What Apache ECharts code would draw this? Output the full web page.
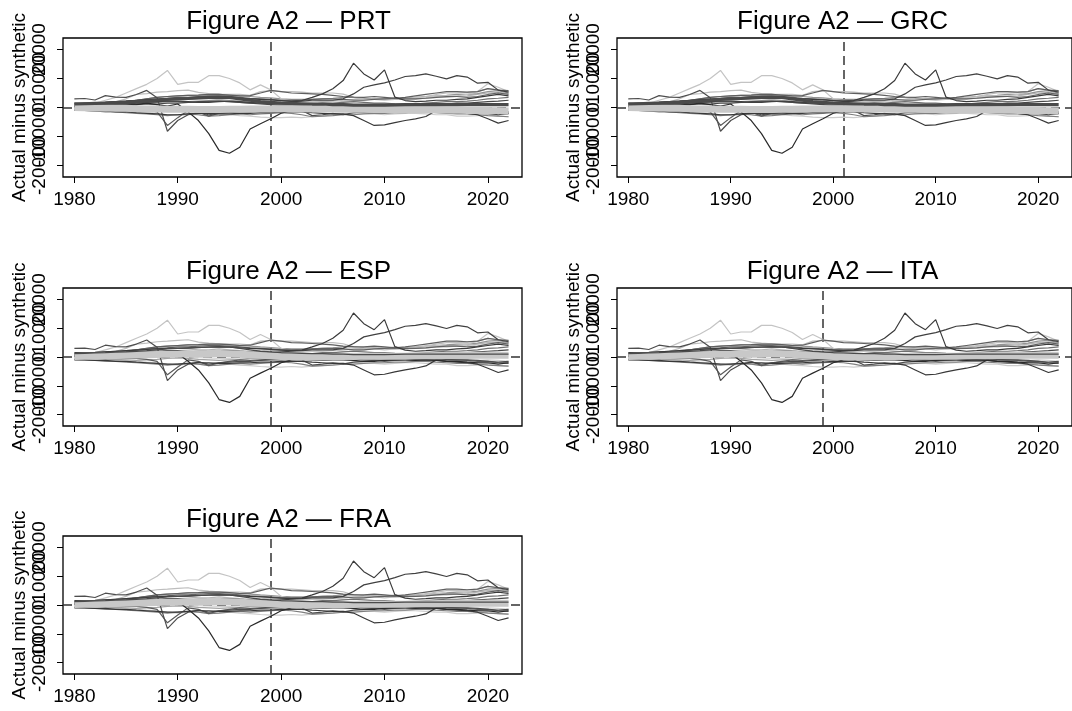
<!DOCTYPE html>
<html>
<head>
<meta charset="utf-8">
<script src="https://cdn.jsdelivr.net/npm/echarts@6/dist/echarts.min.js"></script>
<style>
  html, body { margin: 0; padding: 0; background: #fff; }
  #main { width: 1072px; height: 711px; }
</style>
</head>
<body>
<div id="main"></div>
<script>
// 年份 (x)
var years = [1980, 1981, 1982, 1983, 1984, 1985, 1986, 1987, 1988, 1989,
             1990, 1991, 1992, 1993, 1994, 1995, 1996, 1997, 1998, 1999,
             2000, 2001, 2002, 2003, 2004, 2005, 2006, 2007, 2008, 2009,
             2010, 2011, 2012, 2013, 2014, 2015, 2016, 2017, 2018, 2019,
             2020, 2021, 2022];
var xTicks = [1980, 1990, 2000, 2010, 2020];
var yTicks = [-20000, -10000, 0, 10000, 20000];
// R 把 y 轴刻度标签叠在一起画; ECharts 会隐藏重叠的标签, 所以分两组画
var yLabelsA = [-20000, 0, 20000];
var yLabelsB = [-10000, 10000];

var panels = ['PRT', 'GRC', 'ESP', 'ITA', 'FRA'];
var treatYear = [1999, 2001, 1999, 1999, 1999];

// placebo gaps (actual - synthetic)
var spike89 = [1000, 1200, 1500, 2500, 3500, 5000, 6500, 8000, 10000, 12800,
               8000, 8700, 8700, 11000, 11000, 10000, 8500, 6100, 7800, 6100,
               3000, 2200, 2000, 2000, 2500, 2500, 2000, 2000, 2500, 3000,
               3000, 3500, 3000, 3500, 3500, 4000, 4000, 4000, 4500, 5500,
               8200, 7000, 5500];
var dip95 = [300, 300, 500, 300, 500, 800, 1000, 1500, 1000, 500,
             1200, -1500, -4500, -9000, -14800, -15800, -13700, -7400, -5600, -3900,
             -2000, -1000, -800, -1000, -1200, -1000, -1000, -1200, -1500, -1500,
             -1200, -1000, -1000, -1200, -1000, -1200, -1500, -1500, -1800, -2000,
             -2000, -2500, -2000];
var spike07 = [1500, 1500, 1600, 1800, 2000, 2200, 2400, 2600, 2800, 3000,
               3000, 3200, 3300, 3400, 3500, 3400, 3200, 3000, 2800, 2600,
               2400, 2200, 2400, 3500, 4700, 6500, 9300, 15300, 11600, 9500,
               13000, 3600, 2400, 2000, 2200, 2500, 2500, 2800, 3000, 3500,
               4000, 4500, 4000];
var rise12 = [500, 600, 800, 1000, 1000, 1200, 1500, 1800, 2000, 2200,
              2200, 2000, 1800, 1800, 2000, 2200, 2000, 1800, 1500, 1500,
              1800, 2000, 2200, 2500, 2500, 2500, 3000, 4700, 7000, 7800,
              8500, 9500, 10700, 11000, 11600, 10800, 9900, 11000, 10500, 8400,
              8700, 6000, 5300];
var low09 = [-1000, -1000, -1200, -1200, -1500, -1500, -1800, -2000, -2200, -2500,
             -2500, -2200, -2000, -2000, -2200, -2200, -2000, -2000, -1800, -1800,
             -1500, -1500, -1500, -1800, -2000, -2200, -2200, -2800, -4500, -6200,
             -6000, -5200, -4500, -3900, -3100, -1000, -1500, -1800, -2000, -2500,
             -3900, -5400, -4500];
var early3k = [3000, 3100, 2600, 4100, 3600, 3500, 4500, 5900, 3400, -8200,
               -4500, -2500, -1800, -2500, -2000, -1800, -1500, -1500, -1200, -1000,
               -1000, -800, -1000, -2800, -2500, -2000, -2500, -1800, -1500, -1200,
               -1000, -800, -800, -1000, -1000, -1200, -1000, -1000, -1000, -1200,
               -1500, -1800, -1500];
var dip89 = [200, 300, 200, 0, -300, -500, -500, -800, -1500, -6200,
             -3500, -1000, -1500, -3000, -2000, -1500, -1000, -1200, -1000, -800,
             -500, -500, -300, -500, -800, -800, -500, -500, -1000, -1000,
             -1500, -1200, -1000, -1000, -800, -800, -800, -1000, -1200, -1500,
             -1500, -2000, -2200];
var upper5k = [1000, 1200, 1300, 1500, 2000, 3000, 4500, 4800, 5300, 5500,
               5800, 6000, 5200, 4800, 4600, 4500, 4500, 4200, 5500, 5800,
               5500, 5500, 5300, 5000, 5000, 5000, 4600, 3500, 3000, 2800,
               2500, 2800, 3200, 3000, 3800, 4500, 5000, 5000, 5200, 5500,
               6500, 6000, 5500];
var mid5k = [800, 1000, 1200, 1500, 1800, 2000, 2500, 3000, 3500, 3800,
             4000, 4200, 4300, 4500, 4500, 4300, 4000, 4100, 5000, 5900,
             5500, 5000, 4900, 4700, 4500, 4200, 3800, 3600, 3500, 3800,
             3500, 3200, 3500, 4000, 4500, 5000, 5500, 5500, 5300, 5500,
             6500, 6000, 5800];
var up3k = [500, 800, 1000, 1200, 1500, 2000, 2500, 3000, 3500, 3800,
            4000, 4200, 4300, 4500, 4500, 4300, 4000, 3800, 3500, 3300,
            3000, 2800, 2800, 2800, 3000, 3200, 3500, 3500, 3200, 3000,
            3000, 3000, 3200, 3500, 3800, 4000, 4200, 4500, 4500, 4800,
            5500, 5800, 5000];
var low3k = [-500, -800, -1000, -1000, -1200, -1500, -1500, -1800, -2000, -2500,
             -2800, -2500, -2500, -2800, -2500, -2500, -2800, -3000, -3300, -3500,
             -3500, -3300, -3500, -3200, -3000, -2500, -2200, -2000, -2000, -2200,
             -2500, -2200, -2000, -2000, -2200, -2500, -2500, -3000, -3000, -2800,
             -2500, -3000, -3200];
var near1 = [800, 1000, 1000, 1200, 1200, 1300, 1500, 1500, 1800, 2000,
             2000, 1800, 1800, 2000, 2200, 2000, 1800, 1500, 1500, 1300,
             1200, 1000, 1000, 1200, 1500, 1500, 1800, 2000, 1800, 1500,
             1500, 1300, 1200, 1200, 1500, 1800, 2000, 2000, 2200, 2500,
             3000, 3200, 3500];
var near2 = [-300, -500, -500, -800, -800, -1000, -1200, -1000, -800, -500,
             -300, -500, -800, -1000, -1200, -1000, -800, -500, -500, -300,
             -200, -500, -800, -1000, -1000, -800, -500, -500, -800, -1000,
             -1200, -1000, -800, -800, -1000, -1200, -1500, -1500, -1800, -2000,
             -2200, -2000, -1800];
var near3 = [500, 500, 600, 800, 800, 1000, 1000, 1200, 1200, 1500,
             1500, 1800, 2000, 2200, 2200, 2000, 1800, 1500, 1200, 1000,
             800, 800, 800, 1000, 1000, 1200, 1200, 1000, 1000, 800,
             800, 800, 1000, 1000, 1000, 1200, 1200, 1500, 1500, 1800,
             2000, 2200, 2500];
var near4 = [200, 200, 300, 500, 800, 1000, 1500, 2000, 2500, 3000,
             3000, 2800, 2500, 2500, 2800, 2500, 2200, 2000, 2000, 2200,
             2500, 2500, 2200, 2000, 2000, 2200, 2500, 2800, 3000, 3200,
             3000, 2800, 2800, 3000, 3200, 3500, 3500, 3800, 4000, 4500,
             5000, 5200, 4800];
var near5 = [-800, -1000, -1200, -1500, -1500, -1800, -2000, -2200, -2500, -2800,
             -2500, -2200, -2500, -3000, -2800, -2500, -2200, -2500, -2200, -2000,
             -1800, -2000, -2500, -3200, -3000, -2800, -2500, -2500, -2200, -2000,
             -2000, -1800, -1800, -1500, -1500, -1800, -2000, -2200, -2200, -2500,
             -2800, -3000, -3200];
var near6 = [0, -200, -300, -500, -500, -300, 0, 300, 500, 500,
             300, 0, -200, -300, -500, -500, -300, 0, 200, 300,
             200, 0, -200, -500, -500, -500, -300, -200, -500, -800,
             -1000, -800, -500, -500, -800, -1000, -1200, -1200, -1500, -1200,
             -1000, -1200, -1500];
var near7 = [1200, 1500, 1500, 1800, 2000, 2200, 2500, 2800, 3000, 3200,
             3500, 3500, 3800, 4000, 4000, 3800, 3500, 3200, 3000, 2800,
             2500, 2500, 2500, 2800, 3000, 3000, 2800, 2500, 2500, 2800,
             3000, 3200, 3000, 3000, 3200, 3500, 3800, 3800, 3500, 3800,
             4500, 5000, 4500];

// PRT 的曲线 (thick arc) 和 近零的浅色带
var gapPRT = [1200, 1300, 1400, 1500, 1700, 1800, 2000, 2200, 2500, 2800,
              3000, 3100, 3300, 3500, 3600, 3500, 3000, 2500, 2000, 1800,
              1500, 1400, 1300, 1200, 1200, 1000, 1000, 800, 800, 800,
              800, 900, 1000, 1000, 1000, 1000, 1000, 1000, 1000, 1000,
              1000, 1000, 1000];
var bandA = [0, -100, -200, -200, -300, -300, -400, -500, -500, -600,
             -600, -600, -700, -700, -700, -600, -600, -500, -500, -500,
             -400, -400, -400, -500, -500, -500, -600, -600, -600, -700,
             -700, -700, -700, -800, -800, -800, -900, -900, -1000, -1000,
             -1000, -1100, -1200];
var bandB = [200, 300, 300, 400, 500, 600, 700, 800, 900, 1000,
             1000, 1100, 1100, 1200, 1200, 1100, 1000, 800, 600, 400,
             200, 100, 0, 0, 0, 100, 200, 300, 300, 300,
             300, 300, 300, 400, 400, 400, 500, 500, 500, 600,
             600, 600, 600];

var placebo = [low3k, near6, near2, near4, up3k, upper5k, spike89,
               near1, near5, near7, near3, mid5k, dip89, early3k,
               low09, rise12, spike07, dip95];
var placeboGray = ['#cccccc', '#d0d0d0', '#a3a3a3', '#b5b5b5', '#939393', '#bdbdbd', '#c4c4c4',
                   '#707070', '#7f7f7f', '#626262', '#474747', '#5e5e5e', '#5a5a5a', '#4d4d4d',
                   '#383838', '#404040', '#3a3a3a', '#2a2a2a'];
var panelBand = [bandA, bandA, bandB, bandB, bandB];

// 布局
var FONT = '"Liberation Sans", Arial, Helvetica, sans-serif';
var panelLeft = [63, 617, 63, 617, 63];
var panelTop = [38, 38, 288, 288, 536];
var panelH = [139, 139, 138, 138, 138];
var panelW = 459;
var prtWidth = [3.2, 3.2, 1.3, 1.3, 1.3];

function pairs(vals) {
    var out = [];
    for (let i = 0; i < years.length; i++) {
        out.push([years[i], vals[i]]);
    }
    return out;
}

function yLabel(values) {
    return {
        customValues: values, rotate: 90, margin: 14, fontSize: 19, color: '#000', fontFamily: FONT,
        hideOverlap: false, showMinLabel: true, showMaxLabel: true,
        formatter: function (v) { return String(v); }
    };
}

var grids = [], xAxes = [], yAxes = [], yAxesB = [], series = [], graphics = [];

for (let p = 0; p < panels.length; p++) {
    grids.push({
        left: panelLeft[p], top: panelTop[p], width: panelW, height: panelH[p],
        show: true, borderColor: '#000', borderWidth: 1.3, containLabel: false
    });
    xAxes.push({
        gridIndex: p, type: 'value', min: 1978.9, max: 2023.3,
        axisLine: {show: false, onZero: false},
        splitLine: {show: false},
        axisTick: {customValues: xTicks, length: 6, lineStyle: {color: '#000', width: 1}},
        axisLabel: {
            customValues: xTicks, margin: 13, fontSize: 19, color: '#000', fontFamily: FONT,
            hideOverlap: false, showMinLabel: true, showMaxLabel: true,
            formatter: function (v) { return String(v); }
        }
    });
    yAxes.push({
        gridIndex: p, type: 'value', min: -24000, max: 24000, position: 'left',
        axisLine: {show: false, onZero: false},
        splitLine: {show: false},
        axisTick: {customValues: yTicks, length: 6, lineStyle: {color: '#000', width: 1}},
        axisLabel: yLabel(yLabelsA),
        name: 'Actual minus synthetic', nameLocation: 'middle', nameGap: 29,
        nameTextStyle: {fontSize: 19, color: '#000', fontFamily: FONT}
    });
    yAxesB.push({
        gridIndex: p, type: 'value', min: -24000, max: 24000, position: 'left', offset: 0,
        axisLine: {show: false, onZero: false},
        splitLine: {show: false},
        axisTick: {show: false},
        axisLabel: yLabel(yLabelsB)
    });

    // 虚线 (处理年份 + 零线), 画在最底层
    series.push({
        type: 'line', xAxisIndex: p, yAxisIndex: p, data: [], z: 1, silent: true,
        markLine: {
            silent: true, symbol: 'none', label: {show: false}, z: 1,
            lineStyle: {color: '#333', width: 1.5, type: [9, 5]},
            data: [{xAxis: treatYear[p]}, {yAxis: 0}]
        }
    });
    // 安慰剂线
    for (let k = 0; k < placebo.length; k++) {
        series.push({
            type: 'line', xAxisIndex: p, yAxisIndex: p, data: pairs(placebo[k]),
            symbol: 'none', silent: true, z: 2,
            lineStyle: {color: placeboGray[k], width: 1.2}
        });
    }
    // 浅色粗带
    series.push({
        type: 'line', xAxisIndex: p, yAxisIndex: p, data: pairs(panelBand[p]),
        symbol: 'none', silent: true, z: 3,
        lineStyle: {color: '#c8c8c8', width: 7}
    });
    series.push({
        type: 'line', xAxisIndex: p, yAxisIndex: p, data: pairs(gapPRT),
        symbol: 'none', silent: true, z: 4,
        lineStyle: {color: '#4a4a4a', width: prtWidth[p]}
    });

    graphics.push({
        type: 'text', x: panelLeft[p] + panelW / 2 - 4, y: panelTop[p] - 16.5,
        style: {
            text: 'Figure A2 \u2014 ' + panels[p], fontSize: 26, fontFamily: FONT, fill: '#000',
            align: 'center', verticalAlign: 'middle', textAlign: 'center', textVerticalAlign: 'middle'
        }
    });
}

var chartDom = document.getElementById('main');
var myChart = echarts.init(chartDom);
var option = {
    animation: false,
    backgroundColor: '#fff',
    grid: grids,
    xAxis: xAxes,
    yAxis: yAxes.concat(yAxesB),
    series: series,
    graphic: graphics
};
option && myChart.setOption(option);
</script>
</body>
</html>
